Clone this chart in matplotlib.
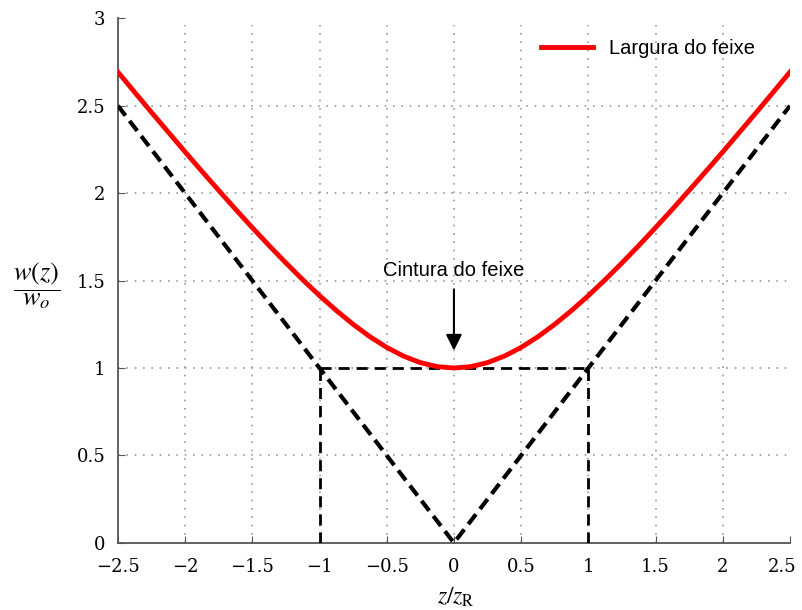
import numpy as np
import matplotlib.pyplot as plt
import matplotlib.transforms as mtransforms

# largura do feixe gaussiano
z_feixe = [-2.5, -2.375, -2.25, -2.125, -2.0, -1.875, -1.75, -1.625, -1.5, -1.375,
           -1.25, -1.125, -1.0, -0.875, -0.75, -0.625, -0.5, -0.375, -0.25, -0.125,
           0.0, 0.125, 0.25, 0.375, 0.5, 0.625, 0.75, 0.875, 1.0, 1.125, 1.25,
           1.375, 1.5, 1.625, 1.75, 1.875, 2.0, 2.125, 2.25, 2.375, 2.5]
w_feixe = [2.693, 2.577, 2.462, 2.349, 2.236, 2.125, 2.016, 1.908, 1.803, 1.700,
           1.601, 1.505, 1.414, 1.329, 1.250, 1.179, 1.118, 1.068, 1.031, 1.008,
           1.000, 1.008, 1.031, 1.068, 1.118, 1.179, 1.250, 1.329, 1.414, 1.505,
           1.601, 1.700, 1.803, 1.908, 2.016, 2.125, 2.236, 2.349, 2.462, 2.577, 2.693]

# assintotas (V tracejado)
z_assint = [-2.5, 0.0, 2.5]
w_assint = [2.5, 0.0, 2.5]

# linhas de zR
z_rayleigh = [-1.0, 1.0]
w_rayleigh = [1.0, 1.0]

x_ticks = [-2.5, -2, -1.5, -1, -0.5, 0, 0.5, 1, 1.5, 2, 2.5]
x_labels = ['\u22122.5', '\u22122', '\u22121.5', '\u22121', '\u22120.5', '0', '0.5', '1', '1.5', '2', '2.5']
y_ticks = [0, 0.5, 1, 1.5, 2, 2.5, 3]
y_labels = ['0', '0.5', '1', '1.5', '2', '2.5', '3']

plt.rcParams['mathtext.fontset'] = 'stix'

fig = plt.figure(figsize=(8.02, 6.10), dpi=100)
ax = fig.add_axes([0.147, 0.110, 0.838, 0.860])

# grade pontilhada (so linhas internas)
for xv in x_ticks[1:-1]:
    ax.plot([xv, xv], [0, 2.96], color='#999999', lw=1.2, ls=(0, (1, 4)), zorder=1)
for yv in y_ticks[1:-1]:
    ax.plot([-2.5, 2.5], [yv, yv], color='#999999', lw=1.2, ls=(0, (1, 4)), zorder=1)

ax.plot(z_assint, w_assint, color='black', lw=3, ls=(0, (3, 1.6)), zorder=3)
ax.plot(z_rayleigh, w_rayleigh, color='black', lw=2, ls=(0, (4, 2.5)), zorder=3)
for zr in z_rayleigh:
    ax.plot([zr, zr], [0, 1], color='black', lw=2, ls=(0, (4, 2.5)), zorder=3)

ax.plot(z_feixe, w_feixe, color='#ff0000', lw=3.5, label='Largura do feixe', zorder=4)

ax.annotate('Cintura do feixe', xy=(0, 1.1), xytext=(0, 1.56),
            ha='center', va='center', fontsize=14.5, family='Liberation Sans',
            arrowprops=dict(arrowstyle='-|>', color='black', lw=1.5,
                            mutation_scale=24, shrinkA=5, shrinkB=0))

ax.set_xlim(-2.5, 2.5)
ax.set_ylim(0, 3)
ax.set_xticks(x_ticks)
ax.set_xticklabels(x_labels)
ax.set_yticks(y_ticks)
ax.set_yticklabels(y_labels)
for lab in ax.get_xticklabels() + ax.get_yticklabels():
    lab.set_family('DejaVu Serif')
    lab.set_fontsize(13)
ax.tick_params(direction='in', length=5, color='#555555')
ax.tick_params(axis='x', pad=11)
ax.tick_params(axis='y', pad=9)

# ultimo rotulo do eixo x um pouco para a esquerda, para nao cortar
ultimo = ax.get_xticklabels()[-1]
ultimo.set_transform(ultimo.get_transform() +
                     mtransforms.ScaledTranslation(-6 / 72, 0, fig.dpi_scale_trans))

for s in ['top', 'right']:
    ax.spines[s].set_visible(False)
for s in ['left', 'bottom']:
    ax.spines[s].set_color('#555555')
    ax.spines[s].set_linewidth(1.3)

leg = ax.legend(loc='upper right', bbox_to_anchor=(0.975, 0.995), frameon=False,
                prop={'family': 'Liberation Sans', 'size': 14.5}, handlelength=2.6)

fig.text(0.046, 0.532, r'$\dfrac{w(z)}{w_o}$', fontsize=19, ha='center', va='center')
fig.text(0.568, 0.002, r'$z/z_\mathrm{R}$', fontsize=17, ha='center', va='bottom')

fig.savefig('out.png', dpi=100)
